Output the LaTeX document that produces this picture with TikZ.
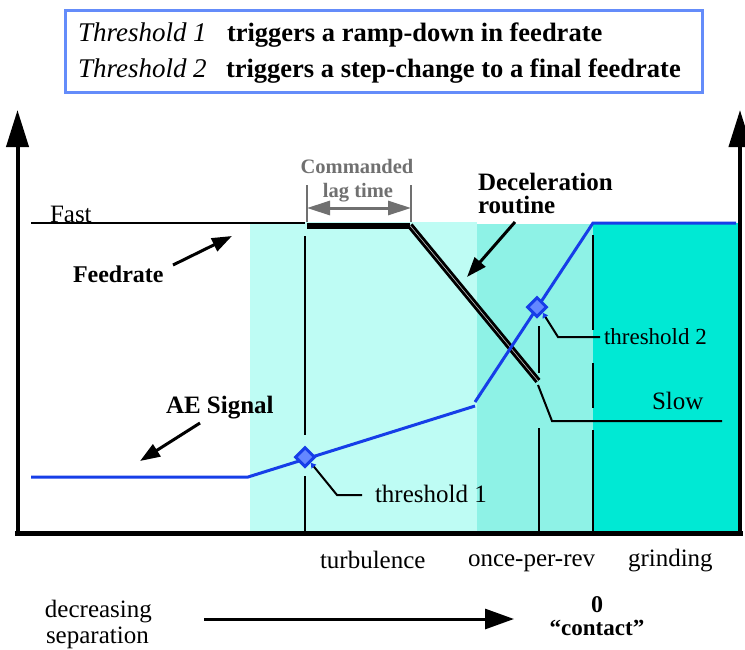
\documentclass[tikz,border=0pt]{standalone}
\usepackage{fontspec}
\setmainfont{Liberation Serif}[ItalicFont={Liberation Serif Italic},BoldFont={Liberation Serif Bold},BoldItalicFont={Liberation Serif Bold Italic}]
\usetikzlibrary{arrows.meta,shapes.geometric}
\definecolor{lightcy}{RGB}{190,252,244}
\definecolor{midcy}{RGB}{142,242,230}
\definecolor{darkcy}{RGB}{0,233,212}
\definecolor{aeblue}{RGB}{22,62,232}
\definecolor{diafill}{RGB}{100,135,255}
\definecolor{boxblue}{RGB}{100,140,250}
\definecolor{dimgray}{RGB}{112,112,112}
\newcommand{\fsz}[1]{\fontsize{#1}{#1}\selectfont}
\begin{document}
\begin{tikzpicture}[x=1pt,y=-1pt,
  txt/.style={inner sep=0pt, outer sep=0pt, anchor=base west},
  lab/.style={txt, font=\fsz{25}},
  blab/.style={txt, font=\fsz{25}\bfseries},
  ttl/.style={txt, font=\fsz{26.5}\bfseries},
  ittl/.style={txt, font=\fsz{27}\itshape},
  axis/.style={line width=4pt, -{Triangle[length=37pt,width=22pt]}},
  pointer/.style={line width=3pt, -{Triangle[length=20pt,width=14pt]}},
  marker/.style={line width=2pt, -{Triangle[length=5pt,width=6pt,color=aeblue]}},
  guide/.style={line width=2pt},
  aeline/.style={aeblue, line width=3pt},
  thr/.style={diamond, draw=aeblue, fill=diafill, line width=3pt, minimum size=20pt, inner sep=0pt},
]
\useasboundingbox (0,0) rectangle (745,649);
\fill[white] (0,0) rectangle (745,649);

% title box
\node[draw=boxblue, line width=2.5pt, inner sep=0pt, minimum width=637pt, minimum height=82pt, anchor=north west] (titlebox) at (64,9) {};
\node[ittl] (t1a) at (78,41) {Threshold 1};
\node[ttl] (t1b) at (227,41) {triggers a ramp-down in feedrate};
\node[ittl] (t2a) at (78,77) {Threshold 2};
\node[ttl] (t2b) at (226,77) {triggers a step-change to a final feedrate};

% shaded zones
\fill[lightcy] (250,222) rectangle (477,531);
\fill[midcy] (477,224) rectangle (593,531);
\fill[darkcy] (593,223) rectangle (740,531);

% axes
\coordinate (origin) at (17.5,533);
\coordinate (ytop) at (17.5,110);
\coordinate (rbot) at (740,533);
\coordinate (rtop) at (740,110);
\draw[line width=5pt] (15,533) -- (743,533);
\draw[axis] (origin) -- (ytop);
\draw[axis] (rbot) -- (rtop);

% zone boundaries
\draw[guide] (305,236) -- (305,435);
\draw[guide] (305,476) -- (305,531);
\draw[guide] (539,326) -- (539,373);
\draw[guide] (539,428) -- (539,531);
\draw[guide] (593,235) -- (593,330);
\draw[guide] (593,363) -- (593,408);
\draw[guide] (593,430) -- (593,531);

% feedrate curve
\coordinate (f0) at (31,223);
\coordinate (f1) at (305,223);
\coordinate (f2) at (307,225.5);
\coordinate (f3) at (410,225.5);
\coordinate (f4) at (538,381);
\coordinate (f5) at (538,385);
\coordinate (f6) at (552,421);
\coordinate (f7) at (722,421);
\draw[line width=2pt] (f0) -- (f1);
\draw[line width=6pt] (f2) -- (f3);
\draw[line width=2.9pt, double=gray!45, double distance=0.6pt] (f3) -- (f4);
\draw[line width=2pt] (f5) -- (f6) -- (f7);

% AE signal
\coordinate (a0) at (31,477);
\coordinate (a1) at (248,477);
\coordinate (a2) at (475,406);
\coordinate (a3) at (475,402);
\coordinate (a4) at (593,223);
\coordinate (a5) at (736,223);
\draw[aeline] (a0) -- (a1) -- (a2);
\draw[aeline] (a3) -- (a4) -- (a5);
\node[thr] (th1) at (305,457) {};
\node[thr] (th2) at (537,307) {};

% commanded lag time
\draw[dimgray, line width=2pt] (307,185) -- (307,222);
\draw[dimgray, line width=2pt] (411,185) -- (411,222);
\coordinate (lagL) at (307,208);
\coordinate (lagR) at (411,208);
\draw[dimgray, line width=3pt, {Triangle[length=23pt,width=14pt]}-{Triangle[length=23pt,width=14pt]}] (lagL) -- (lagR);
\node[txt, anchor=base, font=\fsz{20.5}\bfseries, text=dimgray] (cmd) at (357,173) {Commanded};
\node[txt, anchor=base, font=\fsz{20.5}\bfseries, text=dimgray] (lag) at (358,197) {lag time};

% labels
\node[lab] (fast) at (50,222) {Fast};
\node[lab] (slow) at (652,409) {Slow};
\node[blab, font=\fsz{24}\bfseries] (feed) at (73,282) {Feedrate};
\node[blab] (ae) at (166,413) {AE Signal};
\node[blab] (dec1) at (478,190) {Deceleration};
\node[blab] (dec2) at (478,213) {routine};

\coordinate (feedS) at (173,265);
\coordinate (feedT) at (232,236);
\draw[pointer] (feedS) -- (feedT);
\coordinate (aeS) at (200,423);
\coordinate (aeT) at (140,461);
\draw[pointer] (aeS) -- (aeT);
\coordinate (decS) at (515,222);
\coordinate (decT) at (467,277);
\draw[pointer] (decS) -- (decT);

% threshold leaders
\coordinate (l1a) at (337,495);
\coordinate (l1b) at (362,495);
\draw[marker] (l1b) -- (l1a) -- (th1.south east);
\node[lab] (thr1) at (375,502) {threshold 1};
\coordinate (l2a) at (558,337);
\coordinate (l2b) at (600,337);
\draw[marker] (l2b) -- (l2a) -- (th2.south east);
\node[lab, font=\fsz{23}] (thr2) at (604,344) {threshold 2};

% zone names
\node[lab] (turb) at (320,568) {turbulence};
\node[lab] (opr) at (468,566) {once-per-rev};
\node[lab] (grind) at (628,566) {grinding};

% separation
\node[lab] (decr) at (45,617) {decreasing};
\node[lab] (sep) at (46,643) {separation};
\node[txt, anchor=base, font=\fsz{24}\bfseries] (zero) at (597,612) {0};
\node[txt, anchor=base, font=\fsz{23}\bfseries] (contact) at (597,635) {“contact”};
\coordinate (sepS) at (204,619);
\coordinate (sepT) at (514,619);
\draw[line width=3pt, -{Triangle[length=29pt,width=20pt]}] (sepS) -- (sepT);
\end{tikzpicture}
\end{document}
